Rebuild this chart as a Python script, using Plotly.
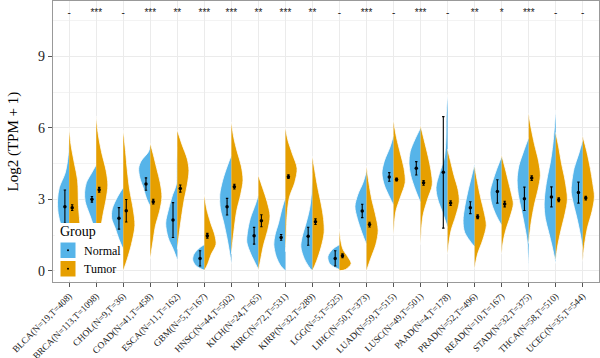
import plotly.graph_objects as go

# ---------------- data ----------------
cancers = ["BLCA", "BRCA", "CHOL", "COAD", "ESCA", "GBM", "HNSC", "KICH", "KIRC", "KIRP",
           "LGG", "LIHC", "LUAD", "LUSC", "PAAD", "PRAD", "READ", "STAD", "THCA", "UCEC"]
n_normal = [19, 113, 9, 41, 11, 5, 44, 24, 72, 32, 5, 50, 59, 49, 4, 52, 10, 32, 58, 35]
n_tumor = [408, 1098, 36, 458, 162, 167, 502, 65, 531, 289, 525, 373, 515, 501, 178, 496, 167, 375, 510, 544]

signif = ["-", "***", "-", "***", "**", "***", "***", "**", "***", "**",
          "-", "***", "-", "***", "-", "**", "*", "***", "-", "-"]

normal_mean = [2.69, 3.0, 2.2, 3.64, 2.13, 0.52, 2.69, 1.47, 1.4, 1.45, 0.52, 2.51, 3.94, 4.3, 4.13, 2.65, 3.33, 3.02, 3.1, 3.28]
normal_sd = [0.7, 0.12, 0.45, 0.26, 0.73, 0.32, 0.35, 0.35, 0.12, 0.38, 0.32, 0.28, 0.18, 0.28, 2.34, 0.25, 0.49, 0.49, 0.42, 0.44]
tumor_mean = [2.65, 3.4, 2.52, 2.9, 3.45, 1.47, 3.53, 2.1, 3.95, 2.06, 0.63, 1.94, 3.83, 3.69, 2.84, 2.27, 2.8, 3.89, 2.98, 3.05]
tumor_sd = [0.12, 0.1, 0.47, 0.1, 0.15, 0.1, 0.1, 0.25, 0.08, 0.12, 0.08, 0.1, 0.06, 0.1, 0.1, 0.08, 0.12, 0.1, 0.08, 0.08]

# density outlines: [log2(TPM+1), relative half-width], top to bottom
normal_profiles = [
    [[5.6, 0], [4.8, 0.1], [4.1, 0.35], [3.5, 0.85], [3.0, 1.0], [2.4, 0.95], [1.9, 0.7], [1.4, 0.3], [1.1, 0]],
    [[4.45, 0], [4.1, 0.4], [3.7, 0.85], [3.3, 1.0], [2.9, 0.95], [2.4, 0.6], [1.9, 0.25], [1.4, 0.1], [1.0, 0]],
    [[3.5, 0], [3.1, 0.5], [2.6, 0.95], [2.2, 1.0], [1.8, 0.7], [1.3, 0.35], [0.9, 0]],
    [[5.3, 0], [5.0, 0.15], [4.6, 0.8], [4.3, 1.0], [3.9, 0.9], [3.4, 0.55], [3.0, 0.3], [2.7, 0]],
    [[5.2, 0], [4.5, 0.05], [3.6, 0.1], [3.2, 0.4], [2.6, 0.75], [2.0, 1.0], [1.4, 0.8], [0.9, 0.35], [0.45, 0]],
    [[1.1, 0], [0.95, 0.45], [0.7, 0.9], [0.45, 1.0], [0.2, 0.7], [0.02, 0]],
    [[4.85, 0], [4.4, 0.35], [3.8, 0.75], [3.2, 1.0], [2.6, 0.95], [2.0, 0.65], [1.3, 0.35], [0.6, 0.1], [0.3, 0]],
    [[3.2, 0], [2.8, 0.25], [2.2, 0.7], [1.6, 0.95], [1.2, 1.0], [0.7, 0.65], [0.3, 0.25], [0.05, 0]],
    [[3.1, 0], [2.6, 0.3], [2.0, 0.6], [1.5, 0.9], [1.1, 1.0], [0.6, 0.8], [0.2, 0.4], [0.0, 0]],
    [[4.1, 0], [3.3, 0.08], [2.6, 0.25], [2.0, 0.55], [1.4, 0.9], [1.0, 1.0], [0.5, 0.7], [0.1, 0.2], [0.0, 0]],
    [[1.1, 0], [0.9, 0.6], [0.6, 1.0], [0.3, 0.85], [0.05, 0]],
    [[4.2, 0], [3.7, 0.3], [3.2, 0.75], [2.7, 1.0], [2.2, 0.8], [1.6, 0.4], [1.1, 0]],
    [[5.7, 0], [5.2, 0.3], [4.6, 0.8], [4.1, 1.0], [3.6, 0.8], [3.1, 0.35], [2.75, 0]],
    [[6.0, 0], [5.5, 0.5], [5.0, 0.9], [4.5, 1.0], [4.0, 0.85], [3.4, 0.45], [2.85, 0]],
    [[7.4, 0], [6.5, 0.12], [5.5, 0.15], [4.7, 0.3], [4.1, 0.7], [3.5, 1.0], [3.0, 0.85], [2.4, 0.4], [1.8, 0]],
    [[4.5, 0], [3.9, 0.3], [3.3, 0.6], [2.7, 0.85], [2.1, 1.0], [1.6, 0.85], [1.0, 0]],
    [[4.8, 0], [4.3, 0.4], [3.8, 0.75], [3.3, 1.0], [2.8, 0.85], [2.3, 0.45], [1.9, 0]],
    [[5.6, 0], [5.0, 0.45], [4.4, 0.85], [3.8, 1.0], [3.2, 0.9], [2.6, 0.65], [2.0, 0.4], [1.3, 0.15], [0.6, 0.05], [0.0, 0]],
    [[6.75, 0], [6.0, 0.12], [5.3, 0.25], [4.6, 0.45], [4.0, 0.7], [3.4, 0.9], [2.8, 1.0], [2.2, 0.9], [1.6, 0.6], [1.0, 0.3], [0.3, 0]],
    [[5.5, 0], [4.9, 0.35], [4.3, 0.75], [3.7, 0.95], [3.3, 1.0], [2.8, 0.8], [2.2, 0.5], [1.5, 0.2], [0.9, 0]],
]
tumor_profiles = [
    [[6.0, 0], [5.3, 0.15], [4.5, 0.45], [3.8, 0.72], [2.7, 0.8], [1.8, 0.95], [1.2, 1.0], [0.6, 0.6], [0.1, 0]],
    [[6.5, 0], [5.8, 0.15], [5.0, 0.45], [4.2, 0.85], [3.6, 1.0], [3.0, 0.85], [2.4, 0.6], [1.7, 0.35], [1.2, 0.15], [0.8, 0]],
    [[5.9, 0], [5.0, 0.2], [4.2, 0.35], [3.4, 0.55], [2.6, 0.85], [1.9, 1.0], [1.1, 0.7], [0.5, 0.35], [0.0, 0]],
    [[5.35, 0], [4.9, 0.25], [4.3, 0.55], [3.7, 0.85], [3.1, 1.0], [2.5, 0.8], [1.9, 0.45], [1.3, 0.25], [0.5, 0]],
    [[5.9, 0], [5.3, 0.4], [4.7, 0.85], [4.2, 1.0], [3.6, 0.85], [3.0, 0.6], [2.4, 0.4], [1.7, 0.2], [0.9, 0]],
    [[3.2, 0], [2.6, 0.2], [2.0, 0.55], [1.5, 0.9], [1.1, 1.0], [0.7, 0.6], [0.3, 0.3], [0.0, 0]],
    [[6.25, 0], [5.6, 0.2], [5.0, 0.5], [4.4, 0.85], [3.8, 1.0], [3.2, 0.8], [2.5, 0.45], [1.6, 0.2], [0.7, 0]],
    [[4.0, 0], [3.5, 0.35], [2.9, 0.75], [2.3, 1.0], [1.7, 0.8], [1.1, 0.45], [0.5, 0.2], [0.0, 0]],
    [[6.0, 0], [5.5, 0.2], [4.9, 0.6], [4.3, 1.0], [3.7, 0.8], [3.1, 0.35], [2.4, 0.15], [1.5, 0.07], [0.8, 0]],
    [[4.8, 0], [4.2, 0.2], [3.5, 0.45], [2.8, 0.75], [2.2, 0.95], [1.6, 1.0], [1.0, 0.75], [0.4, 0.35], [0.0, 0]],
    [[1.75, 0], [1.3, 0.1], [0.9, 0.3], [0.6, 0.7], [0.3, 1.0], [0.05, 0.5], [0.0, 0]],
    [[4.4, 0], [3.7, 0.2], [3.0, 0.45], [2.4, 0.75], [1.7, 1.0], [1.1, 0.8], [0.5, 0.35], [0.0, 0]],
    [[6.3, 0], [5.6, 0.25], [4.9, 0.6], [4.3, 0.9], [3.7, 1.0], [3.1, 0.6], [2.5, 0.2], [1.5, 0]],
    [[6.1, 0], [5.5, 0.3], [4.8, 0.65], [4.2, 0.9], [3.6, 1.0], [3.0, 0.6], [2.3, 0.2], [1.1, 0]],
    [[5.1, 0], [4.6, 0.25], [4.0, 0.55], [3.4, 0.9], [2.9, 1.0], [2.3, 0.7], [1.7, 0.3], [1.2, 0.12], [0.7, 0]],
    [[4.4, 0], [3.7, 0.25], [3.0, 0.55], [2.5, 0.8], [1.9, 1.0], [1.3, 0.7], [0.7, 0.25], [0.1, 0]],
    [[4.85, 0], [4.3, 0.3], [3.7, 0.6], [3.2, 0.85], [2.8, 1.0], [2.3, 0.75], [1.7, 0.35], [1.2, 0.12], [0.7, 0]],
    [[6.6, 0], [6.0, 0.2], [5.3, 0.5], [4.6, 0.85], [4.0, 1.0], [3.4, 0.8], [2.8, 0.5], [2.0, 0.2], [1.15, 0]],
    [[5.8, 0], [5.2, 0.25], [4.5, 0.5], [3.8, 0.8], [3.0, 1.0], [2.4, 0.8], [1.7, 0.45], [1.0, 0.15], [0.45, 0]],
    [[5.65, 0], [5.0, 0.35], [4.3, 0.65], [3.7, 0.85], [3.1, 1.0], [2.5, 0.8], [1.8, 0.4], [1.1, 0.15], [0.4, 0]],
]

tick_labels = [f"{c}(N={n},T={t})" for c, n, t in zip(cancers, n_normal, n_tumor)]

# ---------------- styling ----------------
C_NORMAL = "#56B4E9"
C_TUMOR = "#E69F00"
SERIF = "Liberation Serif, Times New Roman, serif"
SANS = "Liberation Sans, Arial, sans-serif"
HALF_W = 0.43
OFF_N, OFF_T = -0.16, 0.11

W, H = 600, 358
ML, MR, MT, MB = 53, 1, 1, 76
PW, PH = W - ML - MR, H - MT - MB


def px(x):
    return (x - ML) / PW


def py(y):
    return (H - MB - y) / PH


fig = go.Figure()

for i in range(len(cancers)):
    for prof, sign, col in ((normal_profiles[i], -1, C_NORMAL), (tumor_profiles[i], 1, C_TUMOR)):
        ys = [p[0] for p in prof]
        xs = [i + sign * HALF_W * p[1] for p in prof]
        fig.add_trace(go.Scatter(
            x=xs, y=ys, mode="lines", fill="toself", fillcolor=col,
            line=dict(color="white", width=0.8, shape="spline", smoothing=0.9),
            hoverinfo="skip", showlegend=False))

xs_n = [i + OFF_N for i in range(len(cancers))]
xs_t = [i + OFF_T for i in range(len(cancers))]
for xs, m, s in ((xs_n, normal_mean, normal_sd), (xs_t, tumor_mean, tumor_sd)):
    fig.add_trace(go.Scatter(
        x=xs, y=m, mode="markers",
        marker=dict(color="black", size=3.5),
        error_y=dict(type="data", array=s, visible=True, color="black", thickness=1.1, width=1.2),
        showlegend=False, hoverinfo="skip"))

fig.add_trace(go.Scatter(
    x=list(range(len(cancers))), y=[10.8] * len(cancers), mode="text", text=signif,
    textfont=dict(family=SANS, size=10, color="#222"), textposition="middle center",
    showlegend=False, hoverinfo="skip"))

# manual legend (inside panel, bottom-left)
shapes = [
    dict(type="rect", xref="paper", yref="paper", x0=px(55), x1=px(112), y0=py(280), y1=py(223),
         fillcolor="white", line=dict(width=0), layer="above"),
    dict(type="rect", xref="paper", yref="paper", x0=px(60), x1=px(76), y0=py(258.5), y1=py(242),
         fillcolor=C_NORMAL, line=dict(color="white", width=1), layer="above"),
    dict(type="rect", xref="paper", yref="paper", x0=px(60), x1=px(76), y0=py(277), y1=py(260.5),
         fillcolor=C_TUMOR, line=dict(color="white", width=1), layer="above"),
    dict(type="circle", xref="paper", yref="paper", x0=px(67), x1=px(69), y0=py(251.2), y1=py(249.2),
         fillcolor="black", line=dict(width=0), layer="above"),
    dict(type="circle", xref="paper", yref="paper", x0=px(67), x1=px(69), y0=py(269.8), y1=py(267.8),
         fillcolor="black", line=dict(width=0), layer="above"),
]
annotations = [
    dict(text="Group", xref="paper", yref="paper", x=px(58), y=py(231), xanchor="left", yanchor="middle",
         showarrow=False, font=dict(family=SERIF, size=14, color="black")),
    dict(text="Normal", xref="paper", yref="paper", x=px(82), y=py(250.5), xanchor="left", yanchor="middle",
         showarrow=False, font=dict(family=SERIF, size=12, color="black")),
    dict(text="Tumor", xref="paper", yref="paper", x=px(82), y=py(269), xanchor="left", yanchor="middle",
         showarrow=False, font=dict(family=SERIF, size=12, color="black")),
    dict(text="Log2 (TPM + 1)", xref="paper", yref="paper", x=px(13), y=py(141.5), xanchor="center",
         yanchor="middle", textangle=-90, showarrow=False, font=dict(family=SERIF, size=15, color="black")),
]

fig.update_layout(
    template="none", width=W, height=H, autosize=False,
    margin=dict(l=ML, r=MR, t=MT, b=MB, pad=0),
    paper_bgcolor="white", plot_bgcolor="white",
    showlegend=False, shapes=shapes, annotations=annotations,
    xaxis=dict(range=[-0.6, 19.6], tickmode="array", tickvals=list(range(len(cancers))), ticktext=tick_labels,
               tickangle=-45, tickfont=dict(family=SERIF, size=9.3, color="#222"),
               showgrid=True, gridcolor="#EBEBEB", gridwidth=1, zeroline=False,
               ticks="outside", ticklen=4, tickcolor="#555", automargin=False,
               showline=True, mirror=True, linecolor="#999", linewidth=1.2),
    yaxis=dict(range=[-0.47, 11.32], tickmode="array", tickvals=[0, 3, 6, 9], ticktext=["0", "3", "6", "9"],
               tickfont=dict(family=SERIF, size=14, color="#222"),
               showgrid=True, gridcolor="#EBEBEB", gridwidth=1, zeroline=False,
               minor=dict(tickvals=[1.5, 4.5, 7.5, 10.5], showgrid=True, gridcolor="#F3F3F3", gridwidth=0.8, ticks=""),
               ticks="outside", ticklen=4, tickcolor="#555", automargin=False,
               showline=True, mirror=True, linecolor="#999", linewidth=1.2),
)

fig.write_html("out.html", config={"displayModeBar": False},
               post_script="document.body.style.margin='0';document.body.style.overflow='hidden';")
